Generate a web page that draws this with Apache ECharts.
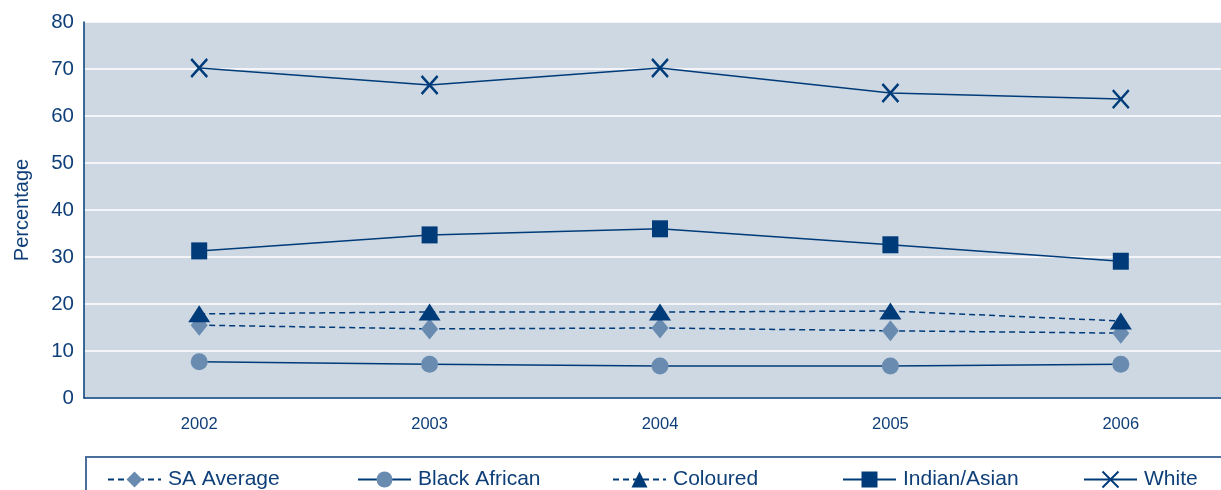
<!DOCTYPE html>
<html>
<head>
<meta charset="utf-8">
<script src="https://cdn.jsdelivr.net/npm/echarts@6/dist/echarts.min.js"></script>
<style>
  html, body { margin: 0; padding: 0; background: #ffffff; overflow: hidden; }
  /* the plot runs on past the right edge of the page, so the canvas is wider than the view */
  #chart { width: 1270px; height: 490px; }
</style>
</head>
<body>
<div id="chart"></div>
<script>
// Share of population by group, 2002-2006 (percentage)
const years = ['2002', '2003', '2004', '2005', '2006'];
const saAverage    = [15.5, 14.7, 14.9, 14.3, 13.8];
const blackAfrican = [7.7, 7.2, 6.8, 6.8, 7.2];
const coloured     = [17.9, 18.3, 18.3, 18.5, 16.4];
const indianAsian  = [31.3, 34.7, 36.0, 32.6, 29.1];
const white        = [70.2, 66.6, 70.2, 64.9, 63.6];
const yTicks = { min: 0, max: 80, interval: 10 };

const NAVY = '#003b79';
const LIGHT = '#6a8bb0';
const TEXT = '#0f3f78';
const FONT = '"Liberation Sans", Arial, sans-serif';

const crossPath = 'path://M0,0L10,10M10,0L0,10';

function lineSeries(name, data, opts) {
  return Object.assign({
    name: name,
    type: 'line',
    data: data,
    symbolSize: 16,
    showSymbol: true,
    z: 3,
    lineStyle: { color: NAVY, width: 1.5, type: 'solid' },
    emphasis: { disabled: true },
    animation: false
  }, opts);
}

const series = [
  lineSeries('SA Average', saAverage, {
    symbol: 'diamond', symbolSize: [17, 21],
    itemStyle: { color: LIGHT },
    lineStyle: { color: NAVY, width: 1.5, type: [6, 4] }
  }),
  lineSeries('Black African', blackAfrican, {
    symbol: 'circle', symbolSize: 17,
    itemStyle: { color: LIGHT }
  }),
  lineSeries('Coloured', coloured, {
    symbol: 'triangle', symbolSize: [22, 17],
    itemStyle: { color: NAVY },
    lineStyle: { color: NAVY, width: 1.5, type: [6, 4] }
  }),
  lineSeries('Indian/Asian', indianAsian, {
    symbol: 'rect', symbolSize: [16, 17],
    itemStyle: { color: NAVY }
  }),
  lineSeries('White', white, {
    symbol: crossPath, symbolSize: [16, 18],
    itemStyle: { color: 'transparent', borderColor: NAVY, borderWidth: 2.5 }
  })
];

// One legend component per entry so each can be placed along the strip
const legendLefts = [107, 357, 612, 842, 1083];
const legends = series.map((s, i) => ({
  data: [s.name],
  left: legendLefts[i],
  top: 469,
  padding: 0,
  itemWidth: 53,
  itemHeight: 20,
  itemGap: 0,
  selectedMode: false,
  textStyle: { color: TEXT, fontSize: 21, fontFamily: FONT, padding: [0, 0, 0, 2] }
}));

const chart = echarts.init(document.getElementById('chart'), null, { renderer: 'canvas' });
chart.setOption({
  backgroundColor: '#ffffff',
  animation: false,
  textStyle: { fontFamily: FONT },
  grid: {
    left: 84, top: 22, width: 1152, bottom: 92,
    show: true, backgroundColor: '#cdd8e3', borderWidth: 0
  },
  xAxis: {
    type: 'category',
    data: years,
    boundaryGap: true,
    axisLine: { lineStyle: { color: NAVY, width: 1.5 } },
    axisTick: { show: false },
    axisLabel: { color: TEXT, fontSize: 16.5, margin: 18, fontFamily: FONT }
  },
  yAxis: {
    type: 'value',
    min: yTicks.min, max: yTicks.max, interval: yTicks.interval,
    name: 'Percentage',
    nameLocation: 'middle',
    nameGap: 52,
    nameTextStyle: { color: TEXT, fontSize: 20, fontFamily: FONT },
    axisLine: { show: true, lineStyle: { color: NAVY, width: 1.5 } },
    axisTick: { show: false },
    axisLabel: { color: TEXT, fontSize: 20.5, margin: 10, fontFamily: FONT },
    splitLine: { lineStyle: { color: '#ffffff', width: 1.5 } }
  },
  legend: legends,
  graphic: [{
    type: 'rect',
    shape: { x: 86, y: 457, width: 1170, height: 60 },
    style: { fill: 'none', stroke: '#4a6f9c', lineWidth: 2 },
    silent: true
  }],
  series: series
});
</script>
</body>
</html>
